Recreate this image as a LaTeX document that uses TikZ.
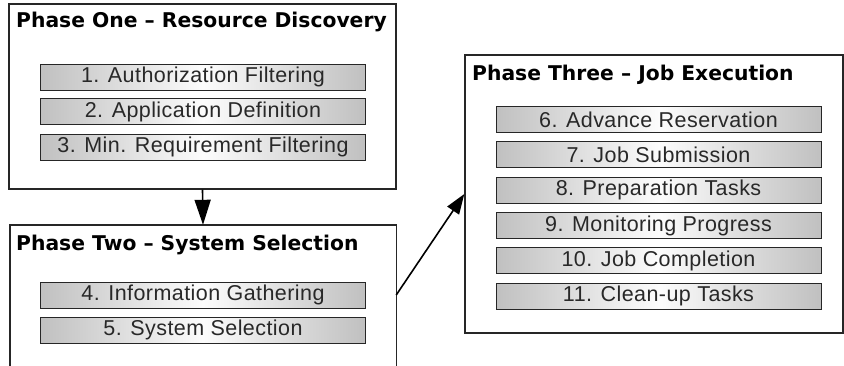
\documentclass[tikz,border=0pt]{standalone}
\usepackage{fontspec}
\setmainfont{Liberation Sans}
\newfontfamily\titlefont{DejaVu Sans}
\newfontfamily\stepfont[LetterSpace=2]{Liberation Sans}
\usetikzlibrary{arrows.meta}
\definecolor{edgegray}{RGB}{192,192,192}
\definecolor{midgray}{RGB}{252,252,252}
\definecolor{steptext}{RGB}{40,40,40}
\tikzset{
  phasebox/.style={draw=black!85, line width=1.4pt, inner sep=0pt},
  phasetitle/.style={anchor=west, inner sep=0pt, font=\titlefont\bfseries\fontsize{20.3}{23}\selectfont},
  stepbox/.style={draw=black!85, line width=1pt, left color=edgegray, right color=edgegray, middle color=midgray,
    minimum width=325pt, minimum height=26pt, inner sep=0pt, text=steptext,
    font=\stepfont\fontsize{21.5}{23}\selectfont},
  flow/.style={line width=1.6pt, draw=black},
}
\begin{document}
\begin{tikzpicture}[x=1pt,y=-1pt]
\useasboundingbox (0,0) rectangle (844,365);
\fill[white] (0,0) rectangle (844,365);
% Phase One
\node[phasebox, minimum width=387pt, minimum height=185pt] (p1) at (202.5,96.5) {};
\node[phasetitle] (t1) at (16,22) {Phase One – Resource Discovery};
\node[stepbox] (s1) at (203,77) {1. Authorization Filtering};
\node[stepbox] (s2) at (203,111.5) {2. Application Definition};
\node[stepbox] (s3) at (203,147) {3. Min. Requirement Filtering};
% Phase Two (open at the bottom)
\node[inner sep=0pt, minimum width=386pt, minimum height=145pt] (p2) at (203,297.5) {};
\draw[draw=black!85, line width=1.4pt] (p2.south west) -- (p2.north west) -- (p2.north east) -- (p2.south east);
\node[phasetitle] (t2) at (16,245) {Phase Two – System Selection};
\node[stepbox] (s4) at (203,295) {4. Information Gathering};
\node[stepbox] (s5) at (203,330) {5. System Selection};
% Phase Three
\node[phasebox, minimum width=378pt, minimum height=278pt] (p3) at (654,194) {};
\node[phasetitle] (t3) at (472,75) {Phase Three – Job Execution};
\node[stepbox] (s6) at (658.5,119.5) {6. Advance Reservation};
\node[stepbox] (s7) at (658.5,154.5) {7. Job Submission};
\node[stepbox] (s8) at (658.5,190) {8. Preparation Tasks};
\node[stepbox] (s9) at (658.5,225.5) {9. Monitoring Progress};
\node[stepbox] (s10) at (658.5,260.5) {10. Job Completion};
\node[stepbox] (s11) at (658.5,296) {11. Clean-up Tasks};
% connectors
\coordinate (a2start) at (p2.north east |- 0,295);
\draw[flow, -{Triangle[length=25pt,width=16pt]}] (p1.south) -- (p2.north);
\draw[flow, -{Triangle[length=20pt,width=14pt]}] (a2start) -- (p3.west);
\end{tikzpicture}
\end{document}
